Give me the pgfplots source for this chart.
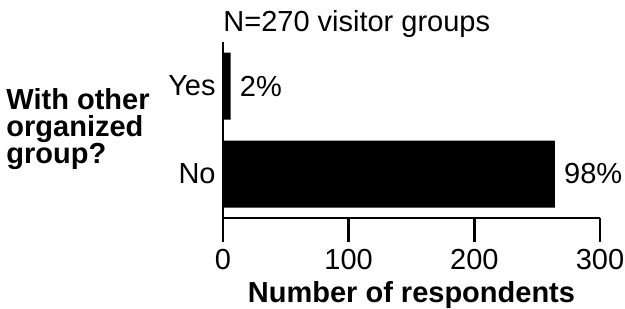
\documentclass[border=0pt]{standalone}
\usepackage{fontspec}
\setmainfont{Liberation Sans}
\usepackage{pgfplots}
\pgfplotsset{compat=1.18}
\begin{document}
\fontsize{14.5}{16}\selectfont
\begin{tikzpicture}
\begin{axis}[
  scale only axis,
  width=188.5pt, height=88pt,
  xbar, bar width=33.5pt,
  xmin=0, xmax=300, ymin=-0.5, ymax=1.5,
  axis x line=bottom, axis y line=left,
  x axis line style={line width=1.4pt, -},
  y axis line style={line width=1pt, -},
  xtick={0,100,200,300},
  ytick={0,1}, yticklabels={No,Yes},
  tick align=outside,
  major tick length=12pt,
  x tick style={line width=1.4pt, black},
  y tick style={draw=none},
  /pgf/number format/assume math mode=true,
  xticklabel style={inner sep=0pt, anchor=north, yshift=-3.5pt},
  yticklabel style={inner sep=0pt, anchor=east, xshift=8.5pt},
  title={N=270 visitor groups},
  title style={at={(axis description cs:0,1)}, anchor=base west, inner sep=0pt, yshift=-0.5pt},
  xlabel={\textbf{Number of respondents}},
  xlabel style={at={(axis description cs:0.5,0)}, anchor=base, inner sep=0pt, yshift=-42pt},
  ylabel={With other\\organized\\group?},
  ylabel style={rotate=-90, at={(axis description cs:0,0.5)}, anchor=east, align=left, inner sep=0pt, xshift=-36.5pt, yshift=0.5pt, font={\fontsize{14.5}{13.5}\selectfont\bfseries}},
  nodes near coords,
  point meta=explicit symbolic,
  every node near coord/.append style={anchor=west, inner sep=0pt, xshift=4.5pt, black},
  clip=false,
]
\addplot[fill=black, draw=none] coordinates {(264,0) [98\%] (6,1) [2\%]};
\path (rel axis cs:-0.5915,-0.517) rectangle (rel axis cs:1.0663,1.2386);
\end{axis}
\end{tikzpicture}
\end{document}
